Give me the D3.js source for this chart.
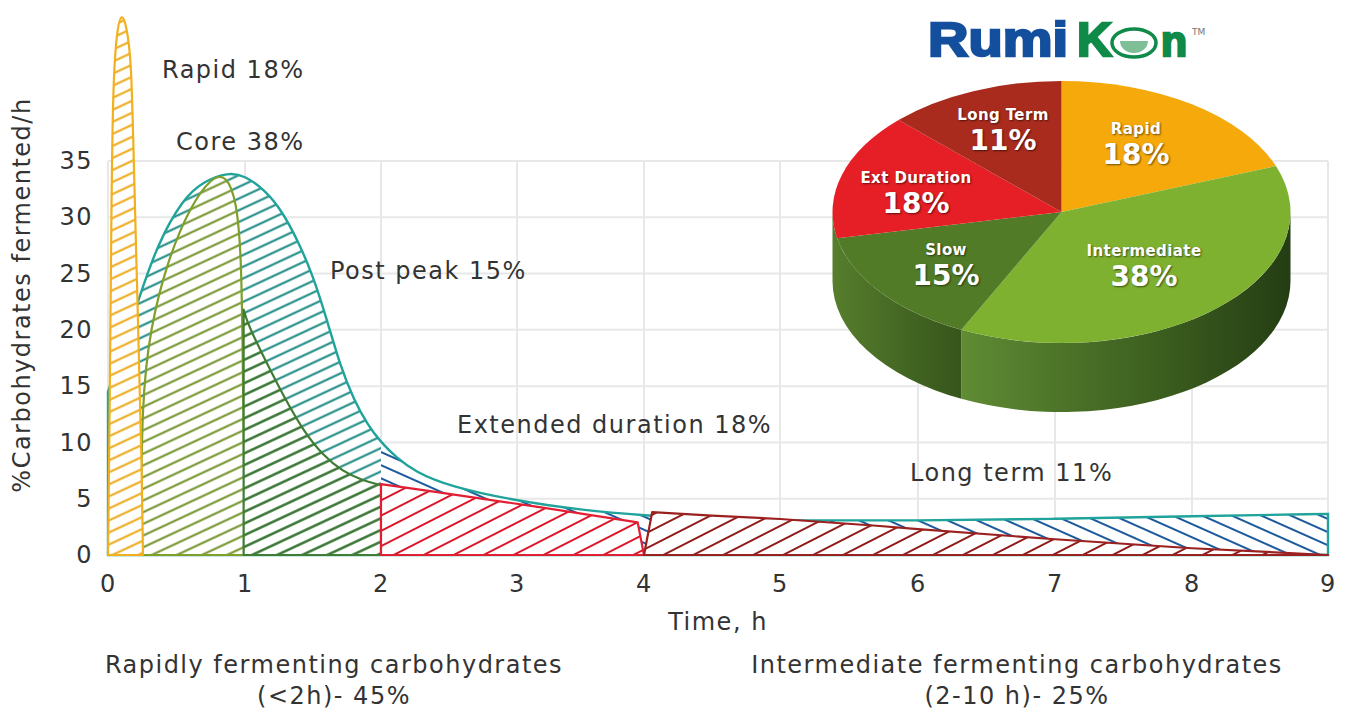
<!DOCTYPE html>
<html>

<head>
  <title>Carbohydrate fermentation</title>
  <script src="https://cdn.jsdelivr.net/npm/d3@7"></script>
  <style>
    html, body {
      margin: 0;
      background: #fff;
    }

    svg {
      display: block;
    }

    text {
      font-family: "DejaVu Sans", sans-serif;
      fill: #333;
    }

    .grid line {
      stroke: #e8e8e8;
      stroke-width: 2;
    }

    .label {
      font-size: 24px;
      letter-spacing: 1.5px;
    }

    .axis text {
      font-size: 24px;
      letter-spacing: 1.5px;
    }

    .pie-name, .pie-pct {
      fill: #fff;
      font-weight: 700;
      text-anchor: middle;
      text-shadow: 1px 1px 2px rgba(0, 0, 0, 0.55);
    }

    .pie-name {
      font-size: 15px;
      letter-spacing: 0.4px;
    }

    .pie-pct {
      font-size: 28px;
    }
  </style>
</head>

<body>
  <div id="chart"></div>
  <script>
    // x = hours, y = % fermented per hour
    const timeTicks = [0, 1, 2, 3, 4, 5, 6, 7, 8, 9];
    const rateTicks = [0, 5, 10, 15, 20, 25, 30, 35];

    const totalCurve = [[0, 14.5], [0.1, 18], [0.22, 22.6], [0.36, 27.6], [0.55, 31.7], [0.7, 33.2], [0.876, 34], [1, 33.7], [1.147, 32.4],
      [1.27, 30.6], [1.39, 27.9], [1.5, 24.8], [1.6, 21], [1.7, 16.8], [1.8, 13.8], [1.9, 11.6], [2, 10], [2.11, 8.7],
      [2.25, 7.4], [2.5, 6.1], [3, 4.8], [3.5, 4], [4, 3.5], [4.5, 3.2], [5, 3.05], [6, 3.05], [7, 3.2], [8, 3.45], [9, 3.65]];
    const rapidCurve = [[0, 0], [0.012, 12], [0.024, 30], [0.036, 42], [0.066, 46.8], [0.1, 48.2], [0.135, 47], [0.17, 44], [0.185, 36.4], [0.22, 20.2], [0.248, 7.3], [0.255, 0]];
    const coreCurve = [[0.24, 0], [0.245, 13.8], [0.31, 20.2], [0.43, 26], [0.6, 31], [0.76, 33.6], [0.86, 33.8], [0.94, 31.5], [0.97, 26.6], [0.98, 21.8], [1, 0]];
    const postPeakCurve = [[0.99, 21.8], [1.02, 20.5], [1.17, 16.8], [1.28, 14.2], [1.43, 11], [1.57, 8.9], [1.72, 7.4], [1.85, 6.7], [2, 6.2]];
    const extendedCurve = [[2, 6.3], [2.4, 5.6], [2.8, 4.9], [3.15, 4.3], [3.95, 2.9], [4, 0]];
    const longTermCurve = [[4, 0], [4.06, 3.8], [4.5, 3.5], [5, 3.2], [5.7, 2.6], [6, 2.3], [7, 1.4], [8, 0.6], [9, 0]];

    // slice sizes as drawn, the printed percentages are in pieLabels
    const pieNames = ["Rapid", "Intermediate", "Slow", "Ext Duration", "Long Term"];
    const pieShares = [19.3, 37.9, 14.6, 15.6, 12.6];
    const pieLabels = ["18%", "38%", "15%", "18%", "11%"];
    const pieColors = ["#f5a90b", "#7fb130", "#527b28", "#e61e26", "#a92b1d"];
    const pieLabelPos = [[1136, 129], [1144, 251], [946, 250], [916, 178], [1003, 115]];

    const width = 1345;
    const height = 711;

    const x = d3.scaleLinear().domain(timeTicks).range([108, 245, 381, 517, 644, 780, 918, 1055, 1192, 1328]);
    const y = d3.scaleLinear().domain([0, 35]).range([555, 161]);

    const svg = d3.select("#chart").append("svg")
      .attr("width", width)
      .attr("height", height);

    const defs = svg.append("defs");

    function hatch(id, color, angle, gap, sw) {
      defs.append("pattern")
        .attr("id", id)
        .attr("patternUnits", "userSpaceOnUse")
        .attr("width", gap)
        .attr("height", gap)
        .attr("patternTransform", `rotate(${angle})`)
        .append("path")
        .attr("d", `M-1,${gap / 2}H${gap + 1}`)
        .attr("stroke", color)
        .attr("stroke-width", sw)
        .attr("fill", "none");
    }

    hatch("h-rapid", "#eaa60f", -25, 10.9, 2);
    hatch("h-total", "#14857f", -25, 10.6, 2);
    hatch("h-core", "#6f8f24", -25, 10.6, 2);
    hatch("h-post", "#2f6f2a", -25, 10.6, 2.4);
    hatch("h-tail", "#1c5a9c", 24, 12, 2);
    hatch("h-ext", "#dd1428", -27, 13.6, 2);
    hatch("h-long", "#8f1a18", -27, 13.6, 2);

    // the total curve changes hatch at 2 h
    defs.append("clipPath").attr("id", "before-two").append("rect")
      .attr("x", 0).attr("y", 0).attr("width", x(2)).attr("height", height);
    defs.append("clipPath").attr("id", "after-two").append("rect")
      .attr("x", x(2)).attr("y", 0).attr("width", width - x(2)).attr("height", height);

    // grid
    const grid = svg.append("g").attr("class", "grid");
    grid.selectAll(".gy").data(rateTicks).enter().append("line")
      .attr("x1", x(0)).attr("x2", x(9))
      .attr("y1", d => y(d)).attr("y2", d => y(d));
    grid.selectAll(".gx").data(timeTicks).enter().append("line")
      .attr("x1", d => x(d)).attr("x2", d => x(d))
      .attr("y1", y(35)).attr("y2", y(0));

    // axes
    const xAxis = svg.append("g")
      .attr("class", "axis")
      .attr("transform", `translate(0,${y(0)})`)
      .call(d3.axisBottom(x).tickValues(timeTicks).tickFormat(d3.format("d")).tickSize(0).tickPadding(20));
    const yAxis = svg.append("g")
      .attr("class", "axis")
      .attr("transform", `translate(${x(0)},0)`)
      .call(d3.axisLeft(y).tickValues(rateTicks).tickSize(0).tickPadding(15));
    xAxis.select(".domain").remove();
    yAxis.select(".domain").remove();

    // hatched regions
    const smooth = d3.area()
      .x(d => x(d[0]))
      .y0(y(0))
      .y1(d => y(d[1]))
      .curve(d3.curveBasis);
    const straight = d3.area()
      .x(d => x(d[0]))
      .y0(y(0))
      .y1(d => y(d[1]));

    function region(shape, pattern, color) {
      svg.append("path").attr("d", shape).attr("fill", "#fff");
      svg.append("path")
        .attr("d", shape)
        .attr("fill", `url(#${pattern})`)
        .attr("stroke", color)
        .attr("stroke-width", 2.2)
        .attr("stroke-linejoin", "round");
    }

    const totalShape = smooth(totalCurve);
    svg.append("path").attr("d", totalShape).attr("fill", "#fff");
    svg.append("path").attr("d", totalShape).attr("fill", "url(#h-total)").attr("clip-path", "url(#before-two)");
    svg.append("path").attr("d", totalShape).attr("fill", "url(#h-tail)").attr("clip-path", "url(#after-two)");
    svg.append("path").attr("d", totalShape).attr("fill", "none").attr("stroke", "#1fa39a").attr("stroke-width", 2.4);
    region(smooth(coreCurve), "h-core", "#7f9f2a");
    region(smooth(postPeakCurve), "h-post", "#3f7d35");
    region(smooth(rapidCurve), "h-rapid", "#f2b01e");
    region(straight(extendedCurve), "h-ext", "#e21f32");
    region(straight(longTermCurve), "h-long", "#9b2020");

    // text
    const labels = [
      ["Rapid 18%", 162, 78, "start"],
      ["Core 38%", 176, 150, "start"],
      ["Post peak 15%", 330, 279, "start"],
      ["Extended duration 18%", 457, 433, "start"],
      ["Long term 11%", 910, 481, "start"],
      ["Time, h", 718, 630, "middle"],
      ["Rapidly fermenting carbohydrates", 334, 673, "middle"],
      ["(<2h)- 45%", 334, 704, "middle"],
      ["Intermediate fermenting carbohydrates", 1017, 673, "middle"],
      ["(2-10 h)- 25%", 1017, 704, "middle"]
    ];
    svg.selectAll(".label").data(labels).enter().append("text")
      .attr("class", "label")
      .attr("x", d => d[1])
      .attr("y", d => d[2])
      .attr("text-anchor", d => d[3])
      .text(d => d[0]);

    svg.append("text")
      .attr("class", "label")
      .attr("transform", "translate(30,295) rotate(-90)")
      .attr("text-anchor", "middle")
      .text("%Carbohydrates fermented/h");

    // pie, squashed circle plus a front wall
    const cx = 1061.5, cy = 212, rx = 229, ry = 131, depth = 69;
    const squash = ry / rx;
    const wallDrop = depth / squash;

    function wallGradient(id, x1, x2, stops) {
      const g = defs.append("linearGradient")
        .attr("id", id)
        .attr("gradientUnits", "userSpaceOnUse")
        .attr("x1", x1).attr("x2", x2).attr("y1", 0).attr("y2", 0);
      stops.forEach((c, i) => g.append("stop").attr("offset", i / (stops.length - 1)).attr("stop-color", c));
    }
    wallGradient("wall-mid", -102, rx, ["#608c34", "#4b7228", "#38591d", "#243d14"]);
    wallGradient("wall-slow", -rx, -102, ["#567e2c", "#466924", "#37561c"]);

    const pie = d3.pie().sort(null).value(d => d);
    const slices = pie(pieShares);
    const sliceArc = d3.arc().innerRadius(0).outerRadius(rx);
    const pieG = svg.append("g").attr("transform", `translate(${cx},${cy}) scale(1,${squash})`);

    function wallPath(a0, a1) {
      const p = d3.path();
      p.arc(0, 0, rx, a0 - Math.PI / 2, a1 - Math.PI / 2);
      p.arc(0, wallDrop, rx, a1 - Math.PI / 2, a0 - Math.PI / 2, true);
      p.closePath();
      return p.toString();
    }

    pieG.append("path")
      .attr("d", wallPath(Math.PI / 2, slices[1].endAngle))
      .attr("fill", "url(#wall-mid)");
    pieG.append("path")
      .attr("d", wallPath(slices[2].startAngle, Math.PI * 1.5))
      .attr("fill", "url(#wall-slow)");

    pieG.selectAll(".slice").data(slices).enter().append("path")
      .attr("class", "slice")
      .attr("d", sliceArc)
      .attr("fill", (d, i) => pieColors[i]);

    svg.selectAll(".pie-name").data(pieNames).enter().append("text")
      .attr("class", "pie-name")
      .attr("x", (d, i) => pieLabelPos[i][0])
      .attr("y", (d, i) => pieLabelPos[i][1] + 5)
      .text(d => d);
    svg.selectAll(".pie-pct").data(pieLabels).enter().append("text")
      .attr("class", "pie-pct")
      .attr("x", (d, i) => pieLabelPos[i][0])
      .attr("y", (d, i) => pieLabelPos[i][1] + 35)
      .text(d => d);

    // logo
    const logo = svg.append("g");
    function logoText(str, px, size, color, len) {
      logo.append("text")
        .attr("x", px).attr("y", 56)
        .attr("textLength", len)
        .attr("lengthAdjust", "spacingAndGlyphs")
        .style("font-family", "'Liberation Sans', sans-serif")
        .style("font-weight", 700)
        .style("font-size", size + "px")
        .style("fill", color)
        .style("stroke", color)
        .style("stroke-width", 2.4)
        .text(str);
    }
    logoText("Rumi", 928, 49, "#134f9c", 140);
    logoText("K", 1077, 49, "#0f8a48", 35);
    logoText("n", 1161, 42, "#0f8a48", 26);
    logo.append("ellipse")
      .attr("cx", 1134).attr("cy", 43).attr("rx", 22).attr("ry", 14)
      .attr("fill", "#fff").attr("stroke", "#0f8a48").attr("stroke-width", 3.5);
    logo.append("path")
      .attr("d", "M1120,41H1148A14,12 0 0 1 1120,41Z")
      .attr("fill", "#7fbf98");
    logo.append("text")
      .attr("x", 1192).attr("y", 35)
      .style("font-size", "9px")
      .style("fill", "#777")
      .text("TM");
  </script>
</body>

</html>
